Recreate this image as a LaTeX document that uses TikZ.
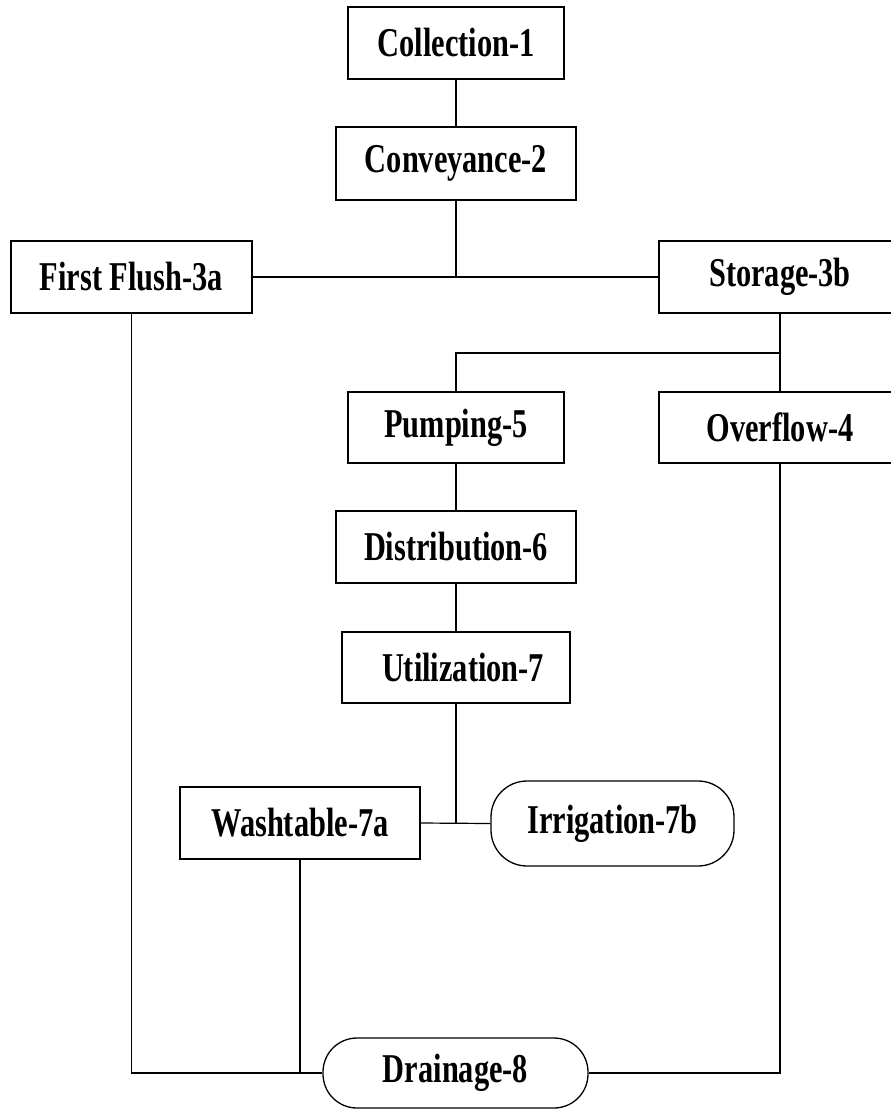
\documentclass[tikz,border=0pt]{standalone}
\usepackage{graphicx}
\usepackage{fontspec}
\setmainfont{Liberation Serif}
\newcommand{\tall}[1]{\scalebox{0.98}[1.32]{#1}}
\tikzset{
  stage/.style={draw, line width=1.3pt, inner sep=0pt, font=\fontsize{31}{36}\selectfont\bfseries},
  pill/.style={stage, rounded corners=36pt},
  pipe/.style={line width=1.2pt}
}
\begin{document}
\begin{tikzpicture}[x=1pt,y=-1pt]
            \useasboundingbox (0,0) rectangle (891,1109);

            % stages
            \node[stage, minimum width=216pt, minimum height=72pt] (collect) at (456,43) {\tall{Collection-1}};
            \node[stage, minimum width=240pt, minimum height=73pt] (convey) at (456,163.5) {\tall{Conveyance-2}};
            \node[stage, minimum width=241pt, minimum height=72pt] (flush) at (131.5,277) {\tall{First Flush-3a}};
            \node[stage, minimum width=242pt, minimum height=72pt] (store) at (780,277) {\tall{Storage-3b}};
            \node[stage, minimum width=216pt, minimum height=71pt] (pump) at (456,427.5) {\tall{Pumping-5}\hspace{18pt}};
            \node[stage, minimum width=242pt, minimum height=71pt] (overflow) at (780,427.5) {\tall{Overflow-4}};
            \node[stage, minimum width=240pt, minimum height=72pt] (distrib) at (456,547) {\tall{Distribution-6}};
            \node[stage, minimum width=228pt, minimum height=71pt] (util) at (456,667.5) {\hspace{14pt}\tall{Utilization-7}};
            \node[stage, minimum width=240pt, minimum height=72pt] (wash) at (300,823) {\tall{Washtable-7a}};
            \node[pill, minimum width=243pt, minimum height=85pt] (irrig) at (612.5,823.5) {\tall{Irrigation-7b}};
            \node[pill, rounded corners=34pt, minimum width=265pt, minimum height=70pt] (drain) at (455.5,1073) {\tall{Drainage-8}};

            % junctions
            \coordinate (split) at (456,277);
            \coordinate (tankout) at (780,353);
            \coordinate (pumpin) at (456,353);
            \coordinate (use) at (456,823);

            % pipes
            \draw[pipe] (collect) -- (convey);
            \draw[pipe] (convey.south) -- (split);
            \draw[pipe] (flush.east) -- (store.west);
            \draw[pipe] (store.south) -- (overflow.north);
            \draw[pipe] (tankout) -- (pumpin) -- (pump.north);
            \draw[pipe] (pump) -- (distrib);
            \draw[pipe] (distrib) -- (util);
            \draw[pipe] (util.south) -- (use);
            \draw[pipe] (wash.east) -- (irrig.west);
            \draw[pipe] (flush.south) |- (drain.west);
            \draw[pipe] (wash.south) -- (wash.south |- drain.west);
            \draw[pipe] (overflow.south) |- (drain.east);
\end{tikzpicture}
\end{document}
